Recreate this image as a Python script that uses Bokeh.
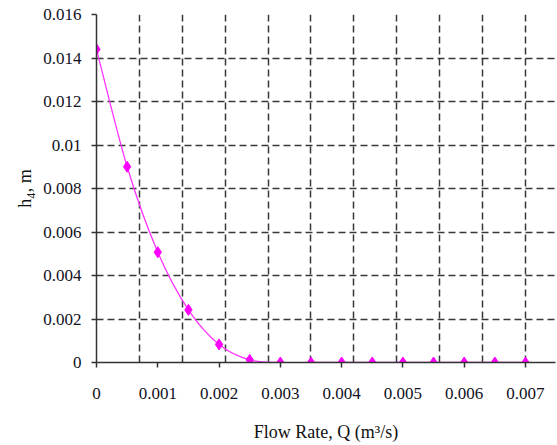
from bokeh.plotting import figure
from bokeh.models import FixedTicker, Range1d
from bokeh.embed import file_html
from bokeh.resources import INLINE
import numpy as np

# Data
flow_rate = [0.0, 0.0005, 0.001, 0.0015, 0.002, 0.0025, 0.003, 0.0035, 0.004,
             0.0045, 0.005, 0.0055, 0.006, 0.0065, 0.007]
h4 = [0.0144, 0.0090, 0.00507, 0.00242, 0.00083, 0.00012, 0.0, 0.0, 0.0,
      0.0, 0.0, 0.0, 0.0, 0.0, 0.0]

x_ticks = [0.0, 0.001, 0.002, 0.003, 0.004, 0.005, 0.006, 0.007]
x_tick_labels = ["0", "0.001", "0.002", "0.003", "0.004", "0.005", "0.006", "0.007"]
y_ticks = [0.0, 0.002, 0.004, 0.006, 0.008, 0.010, 0.012, 0.014, 0.016]
y_tick_labels = ["0", "0.002", "0.004", "0.006", "0.008", "0.01", "0.012", "0.014", "0.016"]
x_grid_step = 0.0007
x_grid_count = 10

FONT = "Liberation Serif"
MAGENTA = "#ff00ff"

p = figure(frame_width=459, frame_height=348,
           min_border_left=96, min_border_right=2, min_border_top=14, min_border_bottom=78,
           x_range=Range1d(0, 0.00749), y_range=Range1d(0, 0.016),
           output_backend="svg", toolbar_location=None,
           background_fill_color="white", border_fill_color="white")
p.outline_line_color = None

# axes
p.xaxis.ticker = FixedTicker(ticks=x_ticks)
p.yaxis.ticker = FixedTicker(ticks=y_ticks)
p.xaxis.major_label_overrides = {t: l for t, l in zip(x_ticks, x_tick_labels)}
p.yaxis.major_label_overrides = {t: l for t, l in zip(y_ticks, y_tick_labels)}
for ax in (p.xaxis[0], p.yaxis[0]):
    ax.axis_line_color = "#333333"
    ax.axis_line_width = 1.5
    ax.major_tick_line_color = "#333333"
    ax.major_tick_line_width = 1.5
    ax.major_tick_out = 5
    ax.major_tick_in = 0
    ax.minor_tick_line_color = None
    ax.major_label_text_font = FONT
    ax.major_label_text_font_size = "17px"
    ax.major_label_text_color = "#111122"
    ax.axis_label_text_font = FONT
    ax.axis_label_text_font_size = "18px"
    ax.axis_label_text_font_style = "normal"
    ax.axis_label_text_color = "#111111"
p.xaxis.major_label_standoff = 20
p.yaxis.major_label_standoff = 10
p.xaxis.axis_label = "Flow Rate, Q (m³/s)"
p.yaxis.axis_label = "h₄, m"
p.xaxis.axis_label_standoff = 20
p.yaxis.axis_label_standoff = 5

# grid
p.xgrid.ticker = FixedTicker(ticks=list(np.arange(1, x_grid_count + 1) * x_grid_step))
p.ygrid.ticker = FixedTicker(ticks=y_ticks[1:])
for g in (p.xgrid[0], p.ygrid[0]):
    g.grid_line_color = "#222222"
    g.grid_line_width = 1.5
    g.grid_line_dash = "7 4"
    g.grid_line_alpha = 0.9

# smoothed line (Bezier through data points, Excel-style smoothing)
x = np.array(flow_rate)
y = np.array(h4)
n = len(x)
x0, y0, x1, y1, cx0, cy0, cx1, cy1 = [], [], [], [], [], [], [], []
for i in range(n - 1):
    xp = x[i - 1] if i > 0 else x[i]
    yp = y[i - 1] if i > 0 else y[i]
    xn = x[i + 2] if i + 2 < n else x[i + 1]
    yn = y[i + 2] if i + 2 < n else y[i + 1]
    x0.append(x[i]); y0.append(y[i]); x1.append(x[i + 1]); y1.append(y[i + 1])
    cx0.append(x[i] + (x[i + 1] - xp) / 6); cy0.append(y[i] + (y[i + 1] - yp) / 6)
    cx1.append(x[i + 1] - (xn - x[i]) / 6); cy1.append(y[i + 1] - (yn - y[i]) / 6)
p.bezier(x0=x0, y0=y0, x1=x1, y1=y1, cx0=cx0, cy0=cy0, cx1=cx1, cy1=cy1,
         line_color="#ff33ff", line_width=1.3)

p.scatter(flow_rate, h4, marker="diamond", size=11,
          fill_color=MAGENTA, line_color=MAGENTA, line_width=1)

open("out.html", "w").write(file_html(p, INLINE))
